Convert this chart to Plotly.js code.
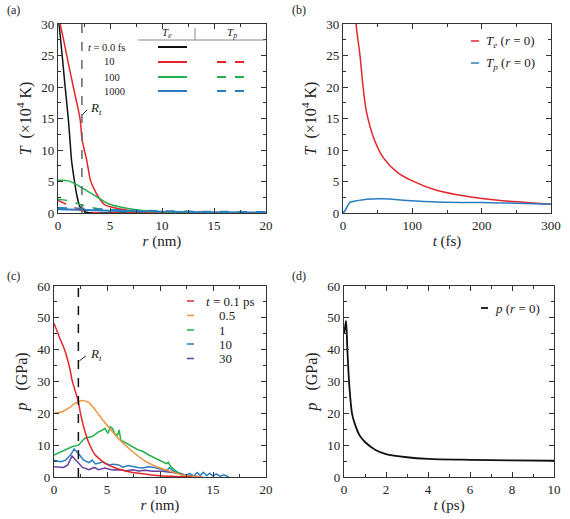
<!DOCTYPE html>
<html><head><meta charset="utf-8">
<script src="https://cdn.plot.ly/plotly-3.0.1.min.js"></script>
<style>html,body{margin:0;padding:0;background:#fff}#chart{width:570px;height:519px}</style>
</head><body><div id="chart"></div>
<script>
// ---------- data ----------
const Rt = 2.3;
// (a) temperature profiles T (x10^4 K) vs r (nm)
const rA_Te0 = [0, 0.1, 0.4, 0.7, 1.0, 1.15, 1.3, 1.57, 1.8, 2.1, 2.6, 3, 4, 20];
const TA_Te0 = [31.5, 30, 25, 19.8, 14.8, 11.6, 8.4, 5.2, 2.9, 1.0, 0.2, 0.05, 0, 0];
const rA_Te10 = [0, 0.2, 0.5, 1, 1.5, 2, 2.15, 2.3, 2.5, 2.76, 3.1, 3.5, 3.9, 4.5, 5.5, 7, 8, 10, 12, 20];
const TA_Te10 = [31.5, 30, 27.8, 23.7, 19.8, 16, 14.6, 11.8, 10.2, 8.4, 5.3, 3.7, 2.5, 1.3, 0.8, 0.37, 0.2, 0.1, 0.05, 0];
const rA_Te100 = [0, 1, 2.1, 2.9, 3.7, 4.8, 6.1, 7.7, 10, 12, 15, 20];
const TA_Te100 = [5.2, 5.1, 4.2, 3.4, 2.6, 1.5, 0.9, 0.47, 0.2, 0.1, 0.05, 0.02];
const rA_Te1000 = [0, 2, 5, 10, 15, 20];
const TA_Te1000 = [0.6, 0.5, 0.35, 0.2, 0.12, 0.08];
const rA_Tp10 = [0, 0.67, 1.3, 1.96, 2.6, 3.5, 5, 20];
const TA_Tp10 = [2.0, 1.5, 1.1, 0.6, 0.2, 0.05, 0, 0];
const rA_Tp100 = [0, 1, 2.3, 3.6, 5.5, 8, 10, 15, 20];
const TA_Tp100 = [2.2, 1.95, 1.27, 0.74, 0.48, 0.3, 0.2, 0.1, 0.05];
const rA_Tp1000 = [0, 2, 5, 10, 15, 20];
const TA_Tp1000 = [0.8, 0.7, 0.5, 0.3, 0.2, 0.15];
// (b) T at r = 0 vs t (fs)
const tB_Te = [15, 18.8, 24.5, 29, 34, 44, 58, 78, 100, 135, 170, 200, 230, 260, 300];
const TB_Te = [36, 30, 25, 20, 16, 12, 8.8, 6.5, 5.1, 3.6, 2.8, 2.3, 1.95, 1.7, 1.4];
const tB_Tp = [0, 3, 7, 10, 12.5, 20, 34, 58, 92, 135, 200, 250, 300];
const TB_Tp = [0, 0.4, 1.2, 1.7, 1.8, 1.95, 2.2, 2.27, 2.0, 1.75, 1.65, 1.55, 1.4];
// (c) pressure profiles p (GPa) vs r (nm)
const rC_01 = [0, 0.5, 1, 1.5, 1.7, 2, 2.26, 2.5, 2.8, 3.3, 3.9, 4.8, 5.5, 6.4, 7.2, 8, 9, 10.2, 11, 12, 13];
const pC_01 = [48.3, 44, 40, 34, 30.5, 27, 24.2, 20, 15.8, 10.6, 6.9, 4.3, 3.2, 2.2, 1.6, 1.2, 0.7, 0.3, 0.2, 0.1, 0];
const rC_05 = [0, 0.75, 1.38, 2.0, 2.64, 3.3, 3.9, 4.7, 5.2, 6.1, 7.4, 8.6, 10.2, 11, 12, 13, 14];
const pC_05 = [20, 20.5, 21.6, 23.2, 24, 23.4, 21, 17.5, 15.5, 12, 8, 5, 2.6, 1.8, 0.7, 0.2, 0];
const rC_1 = [0, 0.5, 1.1, 1.7, 2.3, 2.9, 3.6, 4.2, 4.5, 4.8, 5.1, 5.3, 5.5, 5.75, 6.0, 6.15, 6.3, 6.6, 7.0, 7.4, 7.9, 8.4, 8.9, 9.3, 9.8, 10.2, 10.6, 10.8, 11.0, 11.6, 12.2, 13];
const pC_1 = [6.9, 7.6, 8.5, 9.5, 10, 12.2, 12.7, 14.2, 14.6, 15.3, 13.7, 15.8, 15.3, 13.5, 13.2, 14.8, 11.6, 11.1, 10.2, 9.5, 8.6, 8.0, 7.0, 6.4, 5.6, 4.8, 4.2, 4.6, 3.3, 1.6, 0.3, 0];
const rC_10 = [0, 0.6, 1.1, 1.56, 1.9, 2.3, 2.8, 3.3, 3.6, 3.9, 4.2, 4.6, 5.2, 5.6, 6.1, 6.5, 7.0, 7.4, 7.9, 8.4, 8.9, 9.3, 9.8, 10.2, 10.6, 10.9, 11.3, 11.9, 12.4, 12.8, 13.2, 13.5, 13.8, 14.1, 14.4, 14.7, 15.0, 15.3, 15.7, 16.0, 16.5];
const pC_10 = [5.3, 4.8, 5.3, 6.9, 8.8, 7.4, 5.3, 4.5, 5.3, 4.1, 4.3, 4.8, 3.8, 4.0, 3.8, 3.1, 3.6, 3.3, 3.0, 2.8, 3.2, 3.1, 2.6, 2.3, 2.0, 2.9, 1.8, 1.2, 0.6, 1.1, 0.3, 1.4, 0.5, 1.5, 0.4, 1.2, 0.3, 1.0, 0.2, 0.7, 0];
const rC_30 = [0, 0.9, 1.3, 1.7, 2.2, 2.7, 3.3, 3.8, 4.2, 4.8, 5.5, 6.1, 6.8, 7.4, 8.0, 8.6, 9.3, 10.2, 11, 11.7, 12.3, 13, 14];
const pC_30 = [3.2, 3.0, 3.8, 6.6, 4.8, 3.0, 2.3, 3.0, 2.3, 2.8, 2.2, 2.3, 2.0, 2.3, 1.9, 2.1, 1.8, 1.8, 1.5, 1.2, 0.6, 0.3, 0];
// (d) p at r = 0 vs t (ps)
const tD = [0, 0.05, 0.1, 0.16, 0.25, 0.38, 0.5, 0.75, 1, 1.5, 2, 3, 4, 6, 8, 10];
const pD = [45, 47, 49, 40, 29, 20, 17, 13, 11, 8.5, 7.2, 6.2, 5.7, 5.4, 5.2, 5.1];

// legend labels
const legA_rows = ['<i>t</i> = 0.0 fs', '10', '100', '1000'];
const legA_head = ['<i>T<sub>e</sub></i>', '<i>T<sub>p</sub></i>'];
const legB = ['<i>T<sub>e</sub></i> (<i>r</i> = 0)', '<i>T<sub>p</sub></i> (<i>r</i> = 0)'];
const legC = ['<i>t</i> = 0.1 ps', '0.5', '1', '10', '30'];
const legD = ['<i>p</i> (<i>r</i> = 0)'];

// ---------- styling ----------
const W = 570, H = 519;
const FONT = '"Liberation Serif", "Times New Roman", Times, serif';
const RED = '#e5262b', GREEN = '#22b14c', BLUE = '#2a7dc0', ORANGE = '#f0913f', PURPLE = '#6b3fa0', BLACK = '#111111';
const px = v => v / W, py = v => 1 - v / H;

function ln(x, y, color, xa, ya, dash, w, smooth) {
  const line = {color, width: w || 1.5, dash: dash || 'solid'};
  if (smooth) { line.shape = 'spline'; line.smoothing = smooth; }
  return {x, y, xaxis: xa, yaxis: ya, type: 'scatter', mode: 'lines',
    line, showlegend: false, hoverinfo: 'skip'};
}
const data = [
  ln(rA_Te0, TA_Te0, BLACK, 'x', 'y', 'solid', 1.5, 0.5),
  ln(rA_Te10, TA_Te10, RED, 'x', 'y', 'solid', 1.5, 0.5),
  ln(rA_Te100, TA_Te100, GREEN, 'x', 'y', 'solid', 1.5, 1),
  ln(rA_Te1000, TA_Te1000, BLUE, 'x', 'y', 'solid', 2, 1),
  ln(rA_Tp10, TA_Tp10, RED, 'x', 'y', 'dash', 1.5, 0.8),
  ln(rA_Tp100, TA_Tp100, GREEN, 'x', 'y', 'dash', 1.5, 1),
  ln(rA_Tp1000, TA_Tp1000, BLUE, 'x', 'y', 'dash', 2, 1),
  ln(tB_Te, TB_Te, RED, 'x2', 'y2', 'solid', 1.5, 1.1),
  ln(tB_Tp, TB_Tp, BLUE, 'x2', 'y2', 'solid', 1.5, 0.8),
  ln(rC_30, pC_30, PURPLE, 'x3', 'y3'),
  ln(rC_10, pC_10, BLUE, 'x3', 'y3'),
  ln(rC_1, pC_1, GREEN, 'x3', 'y3'),
  ln(rC_05, pC_05, ORANGE, 'x3', 'y3', 'solid', 1.5, 0.6),
  ln(rC_01, pC_01, RED, 'x3', 'y3', 'solid', 1.5, 0.5),
  ln(tD, pD, BLACK, 'x4', 'y4', 'solid', 1.8, 0.8)
];

function ax(domain, range, dtick, minor, title, anchor, standoff, tsize) {
  return {domain, range, dtick, tick0: 0, anchor, showgrid: false, zeroline: false,
    showline: true, linecolor: '#333', linewidth: 1.2, mirror: 'ticks',
    ticks: 'inside', ticklen: 5, tickwidth: 1, tickcolor: '#333',
    minor: {ticks: 'inside', ticklen: 3, dtick: minor, tick0: 0, tickcolor: '#333', showgrid: false},
    tickfont: {family: FONT, size: 13, color: '#222'},
    title: {text: title, font: {family: FONT, size: tsize, color: '#222'}, standoff: standoff},
    automargin: false, fixedrange: true};
}
const dxA = [px(58), px(266)], dxB = [px(343), px(551)], dxC = [px(54), px(266)], dxD = [px(344), px(554)];
const dyTop = [py(213), py(24)], dyBot = [py(477), py(286)];

const shapes = [];
const ann = [];
function pline(x0, y0, x1, y1, color, w, dash) {
  shapes.push({type: 'line', xref: 'paper', yref: 'paper', x0: px(x0), x1: px(x1), y0: py(y0), y1: py(y1),
    line: {color, width: w, dash: dash || 'solid'}});
}
function ptext(x, y, text, size, anchor) {
  ann.push({xref: 'paper', yref: 'paper', x: px(x), y: py(y), text, showarrow: false,
    xanchor: anchor || 'left', yanchor: 'middle', font: {family: FONT, size: size, color: '#222'}});
}
// Rt markers
shapes.push({type: 'line', xref: 'x', yref: 'y', x0: Rt, x1: Rt, y0: 0, y1: 30, line: {color: '#666', width: 1.5, dash: 'dash'}});
shapes.push({type: 'line', xref: 'x', yref: 'y', x0: Rt + 0.05, x1: Rt + 0.5, y0: 15.6, y1: 16.4, line: {color: '#222', width: 1}});
ann.push({xref: 'x', yref: 'y', x: Rt + 0.6, y: 16.6, text: '<i>R<sub>t</sub></i>', showarrow: false, xanchor: 'left', yanchor: 'middle', font: {family: FONT, size: 13, color: '#222'}});
shapes.push({type: 'line', xref: 'x3', yref: 'y3', x0: Rt, x1: Rt, y0: 0, y1: 60, line: {color: '#111', width: 1.5, dash: 'dash'}});
shapes.push({type: 'line', xref: 'x3', yref: 'y3', x0: Rt + 0.1, x1: Rt + 0.7, y0: 36.5, y1: 38, line: {color: '#222', width: 1}});
ann.push({xref: 'x3', yref: 'y3', x: Rt + 0.9, y: 38.6, text: '<i>R<sub>t</sub></i>', showarrow: false, xanchor: 'left', yanchor: 'middle', font: {family: FONT, size: 13, color: '#222'}});

// (a) table legend
pline(138, 40, 265, 40, '#888', 1);
pline(195, 28, 195, 40, '#888', 1);
ptext(167, 33, legA_head[0], 11, 'center');
ptext(232, 33, legA_head[1], 11, 'center');
const rowY = [47, 62, 77, 91];
const rowC = [BLACK, RED, GREEN, BLUE];
ptext(86, rowY[0], legA_rows[0], 10.5);
for (let i = 1; i < 4; i++) ptext(102, rowY[i], legA_rows[i], 10.5);
for (let i = 0; i < 4; i++) pline(158, rowY[i], 187, rowY[i], rowC[i], 2);
for (let i = 1; i < 4; i++) pline(217, rowY[i], 248, rowY[i], rowC[i], 2, 'dash');
// (b) legend
pline(471, 41, 479, 41, RED, 1.5); ptext(484, 41, legB[0], 13);
pline(471, 63, 479, 63, BLUE, 1.5); ptext(484, 63, legB[1], 13);
// (c) legend
const cY = [301, 315.5, 330, 344, 358.5], cC = [RED, ORANGE, GREEN, BLUE, PURPLE];
for (let i = 0; i < 5; i++) {
  pline(187, cY[i], 194, cY[i], cC[i], 1.5);
  ptext(i === 0 ? 204 : 217, cY[i], legC[i], 13);
}
// (d) legend
pline(481, 308, 488, 308, BLACK, 1.8); ptext(493, 308, legD[0], 13);
// panel labels
ptext(5, 10, '(a)', 12); ptext(290, 10, '(b)', 12); ptext(5, 276, '(c)', 12); ptext(290, 276, '(d)', 12);

const yT = '<i>T</i>  (×10<sup>4</sup> K)', yP = '<i>p</i>   (GPa)';
const layout = {
  width: W, height: H, margin: {l: 0, r: 0, t: 0, b: 0}, paper_bgcolor: '#fff', plot_bgcolor: '#fff',
  showlegend: false,
  xaxis: ax(dxA, [0, 20], 5, 2.5, '<i>r</i> (nm)', 'y', 3, 15),
  yaxis: ax(dyTop, [0, 30], 5, 2.5, yT, 'x', 5, 16),
  xaxis2: ax(dxB, [0, 300], 100, 50, '<i>t</i> (fs)', 'y2', 3, 15),
  yaxis2: ax(dyTop, [0, 30], 5, 2.5, yT, 'x2', 5, 16),
  xaxis3: ax(dxC, [0, 20], 5, 2.5, '<i>r</i> (nm)', 'y3', 3, 15),
  yaxis3: ax(dyBot, [0, 60], 10, 5, yP, 'x3', 5, 16),
  xaxis4: ax(dxD, [0, 10], 2, 1, '<i>t</i> (ps)', 'y4', 3, 15),
  yaxis4: ax(dyBot, [0, 60], 10, 5, yP, 'x4', 5, 16),
  shapes, annotations: ann
};
Plotly.newPlot('chart', data, layout, {displayModeBar: false, staticPlot: true});
</script></body></html>
